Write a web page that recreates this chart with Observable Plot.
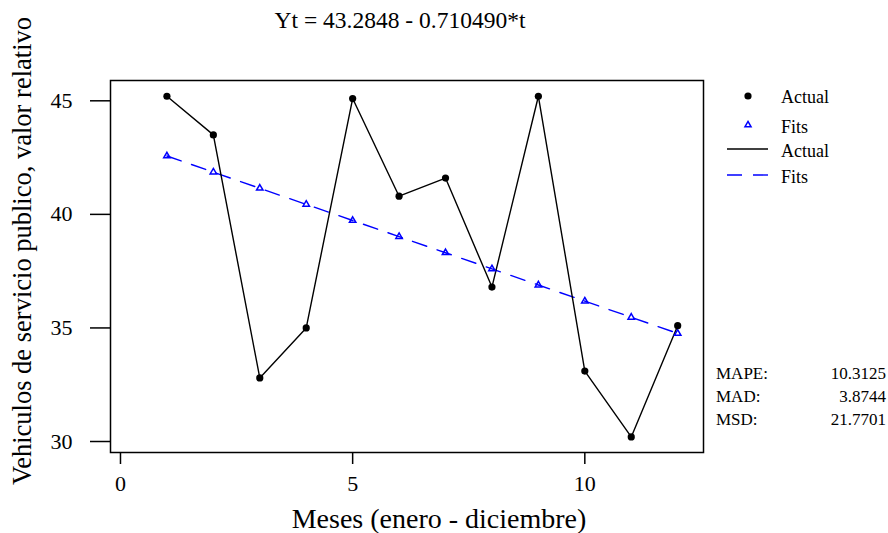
<!DOCTYPE html>
<html>
<head>
<meta charset="utf-8">
<script src="https://cdn.jsdelivr.net/npm/d3@7"></script>
<script src="https://cdn.jsdelivr.net/npm/@observablehq/plot@0.6"></script>
<style>
  html, body { margin: 0; padding: 0; background: #fff; }
  #wrap { position: relative; width: 888px; height: 533px; font-family: "Liberation Serif", "Times New Roman", serif; color: #000; }
  #wrap svg.plot { position: absolute; left: 0; top: 0; }
  #wrap svg.plot text { font-family: "Liberation Serif", "Times New Roman", serif !important; }
  .t { position: absolute; white-space: nowrap; line-height: 1; }
  #title { left: 400px; top: 9px; transform: translateX(-50%); font-size: 23.5px; }
  #xlabel { left: 439px; top: 505px; transform: translateX(-50%); font-size: 28px; }
  #ylabel { left: 22px; top: 251px; transform: translate(-50%, -50%) rotate(-90deg); font-size: 26.5px; }
  #legend { position: absolute; left: 720px; top: 84px; }
  #stats { position: absolute; left: 716px; top: 364px; width: 170px; font-size: 17px; }
  #stats .row { display: flex; justify-content: space-between; height: 23px; line-height: 20px; }
</style>
</head>
<body>
<div id="wrap">
  <div id="title" class="t">Yt = 43.2848 - 0.710490*t</div>
  <div id="xlabel" class="t">Meses (enero - diciembre)</div>
  <div id="ylabel" class="t">Vehiculos de servicio publico, valor relativo</div>
  <div id="legend"></div>
  <div id="stats"></div>
</div>
<script>
// Months 1..12
const meses = [1, 2, 3, 4, 5, 6, 7, 8, 9, 10, 11, 12];
// Observed relative values of public-service vehicles
const actual = [45.2, 43.5, 32.8, 35.0, 45.1, 40.8, 41.6, 36.8, 45.2, 33.1, 30.2, 35.1];
// Fitted linear trend values
const fits = [42.57, 41.86, 41.15, 40.44, 39.73, 39.02, 38.31, 37.60, 36.89, 36.18, 35.47, 34.76];
// Axis ticks
const xTicks = [0, 5, 10];
const yTicks = [30, 35, 40, 45];
// Accuracy measures
const statNames = ["MAPE:", "MAD:", "MSD:"];
const statValues = ["10.3125", "3.8744", "21.7701"];

const serif = "'Liberation Serif', 'Times New Roman', serif";
const rows = meses.map((t, i) => ({t, actual: actual[i], fit: fits[i]}));

const chart = Plot.plot({
  width: 888,
  height: 533,
  marginLeft: 110,
  marginRight: 185,
  marginTop: 80,
  marginBottom: 81,
  style: {fontFamily: serif, color: "#000", background: "transparent"},
  x: {domain: [-0.215, 12.556]},
  y: {domain: [29.516, 45.894]},
  marks: [
    Plot.frame({stroke: "#000", strokeWidth: 1.5}),
    Plot.axisX({ticks: xTicks, tickSize: 12, tickPadding: 11, fontSize: 22, fontFamily: serif, label: null, strokeWidth: 1.5}),
    Plot.axisY({ticks: yTicks, tickSize: 20, tickPadding: 18, fontSize: 22, fontFamily: serif, label: null, strokeWidth: 1.5}),
    Plot.line(rows, {x: "t", y: "fit", stroke: "blue", strokeWidth: 1.4, strokeDasharray: "15,11"}),
    Plot.line(rows, {x: "t", y: "actual", stroke: "#000", strokeWidth: 1.4}),
    Plot.dot(rows, {x: "t", y: "fit", symbol: "triangle", r: 2.4, stroke: "blue", fill: "none", strokeWidth: 1.5}),
    Plot.dot(rows, {x: "t", y: "actual", r: 3.6, fill: "#000", stroke: "none"})
  ]
});
chart.classList.add("plot");
document.getElementById("wrap").prepend(chart);

// Legend
const legendItems = [
  {label: "Actual", kind: "dot"},
  {label: "Fits", kind: "tri"},
  {label: "Actual", kind: "solid"},
  {label: "Fits", kind: "dash"}
];
const lg = d3.select("#legend").append("svg").attr("width", 160).attr("height", 110)
  .style("overflow", "visible");
const rowY = [13, 43, 67, 93];
legendItems.forEach((d, i) => {
  const g = lg.append("g").attr("transform", `translate(0,${rowY[i]})`);
  if (d.kind === "dot") g.append("circle").attr("cx", 28).attr("cy", -1).attr("r", 3.6).attr("fill", "#000");
  if (d.kind === "tri") g.append("path").attr("d", d3.symbol(d3.symbolTriangle, 16)()).attr("transform", "translate(28,-2)")
    .attr("fill", "none").attr("stroke", "blue").attr("stroke-width", 1.5);
  if (d.kind === "solid") g.append("line").attr("x1", 7).attr("x2", 48).attr("y1", -2).attr("y2", -2).attr("stroke", "#000").attr("stroke-width", 1.4);
  if (d.kind === "dash") g.append("line").attr("x1", 7).attr("x2", 48).attr("y1", -2).attr("y2", -2).attr("stroke", "blue")
    .attr("stroke-width", 1.4).attr("stroke-dasharray", "15,11");
  g.append("text").attr("x", 61).attr("y", 0).attr("dy", "0.35em")
    .style("font-family", serif).style("font-size", "18px").text(d.label);
});

// Accuracy measures table
const st = d3.select("#stats");
statNames.forEach((n, i) => {
  const r = st.append("div").attr("class", "row");
  r.append("span").text(n);
  r.append("span").text(statValues[i]);
});
</script>
</body>
</html>
